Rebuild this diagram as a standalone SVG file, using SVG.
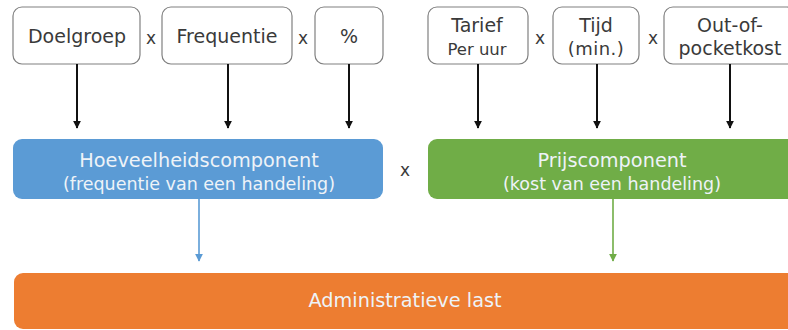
<svg xmlns="http://www.w3.org/2000/svg" width="788" height="330" viewBox="0 0 788 330">
<defs>
<marker id="ab" viewBox="0 0 10 10" refX="9" refY="5" markerWidth="4" markerHeight="4" orient="auto"><path d="M0,0 L10,5 L0,10 z" fill="#111"/></marker>
<marker id="abl" viewBox="0 0 10 10" refX="9" refY="5" markerWidth="5" markerHeight="5" orient="auto"><path d="M0,0 L10,5 L0,10 z" fill="#5B9BD5"/></marker>
<marker id="agr" viewBox="0 0 10 10" refX="9" refY="5" markerWidth="5" markerHeight="5" orient="auto"><path d="M0,0 L10,5 L0,10 z" fill="#70AD47"/></marker>
</defs>
<style>
text{font-family:"DejaVu Sans",Verdana,sans-serif;text-anchor:middle}
.box{fill:#fff;stroke:#808080;stroke-width:1.2}
.t{font-size:19px;fill:#3a3a3a}
.s{font-size:16.5px;fill:#3a3a3a}
.x{font-size:17px;fill:#3a3a3a}
.w{font-size:19.3px;fill:#eef3f8}
.w2{font-size:17.5px;fill:#eef3f8}
.k{stroke:#111;stroke-width:2;fill:none}
</style>
<rect width="788" height="330" fill="#fff"/>
<g id="doelgroep"><rect class="box" x="13" y="7" width="127" height="57" rx="9"/><text class="t" x="77" y="43">Doelgroep</text></g>
<g id="frequentie"><rect class="box" x="162" y="7" width="130" height="57" rx="9"/><text class="t" x="227" y="43">Frequentie</text></g>
<g id="procent"><rect class="box" x="315" y="7" width="68" height="57" rx="9"/><text class="t" x="349" y="43">%</text></g>
<g id="tarief"><rect class="box" x="428" y="7" width="100" height="57" rx="9"/><text class="t" x="477" y="32">Tarief</text><text class="s" x="477" y="55">Per uur</text></g>
<g id="tijd"><rect class="box" x="553" y="7" width="86" height="57" rx="9"/><text class="t" x="596" y="32">Tijd</text><text class="t" x="596" y="55" style="font-size:18px" letter-spacing="0.5">(min.)</text></g>
<g id="outofpocket"><rect class="box" x="664" y="7" width="132" height="57" rx="9"/><text class="t" x="730" y="32">Out-of-</text><text class="t" x="730" y="55">pocketkost</text></g>
<g id="ops">
<text class="x" x="151" y="44">x</text><text class="x" x="303" y="44">x</text>
<text class="x" x="540" y="44">x</text><text class="x" x="653" y="44">x</text>
<text class="x" x="405" y="176">x</text>
</g>
<g id="hoeveelheid"><rect x="13" y="139" width="370" height="60" rx="9" fill="#5B9BD5"/><text class="w" x="199" y="167">Hoeveelheidscomponent</text><text class="w2" x="199" y="190">(frequentie van een handeling)</text></g>
<g id="prijs"><rect x="428" y="139" width="370" height="60" rx="9" fill="#70AD47"/><text class="w" x="612" y="167">Prijscomponent</text><text class="w2" x="612" y="190">(kost van een handeling)</text></g>
<g id="last"><rect x="14" y="273" width="790" height="56" rx="9" fill="#ED7D31"/><text class="w" x="405" y="307">Administratieve last</text></g>
<g id="connectors">
<line class="k" x1="77" y1="64" x2="77" y2="128" marker-end="url(#ab)"/>
<line class="k" x1="228" y1="64" x2="228" y2="128" marker-end="url(#ab)"/>
<line class="k" x1="349" y1="64" x2="349" y2="128" marker-end="url(#ab)"/>
<line class="k" x1="478" y1="64" x2="478" y2="128" marker-end="url(#ab)"/>
<line class="k" x1="597" y1="64" x2="597" y2="128" marker-end="url(#ab)"/>
<line class="k" x1="730" y1="64" x2="730" y2="128" marker-end="url(#ab)"/>
<line x1="199" y1="199" x2="199" y2="261" stroke="#5B9BD5" stroke-width="1.6" marker-end="url(#abl)"/>
<line x1="613" y1="199" x2="613" y2="261" stroke="#70AD47" stroke-width="1.6" marker-end="url(#agr)"/>
</g>
</svg>
